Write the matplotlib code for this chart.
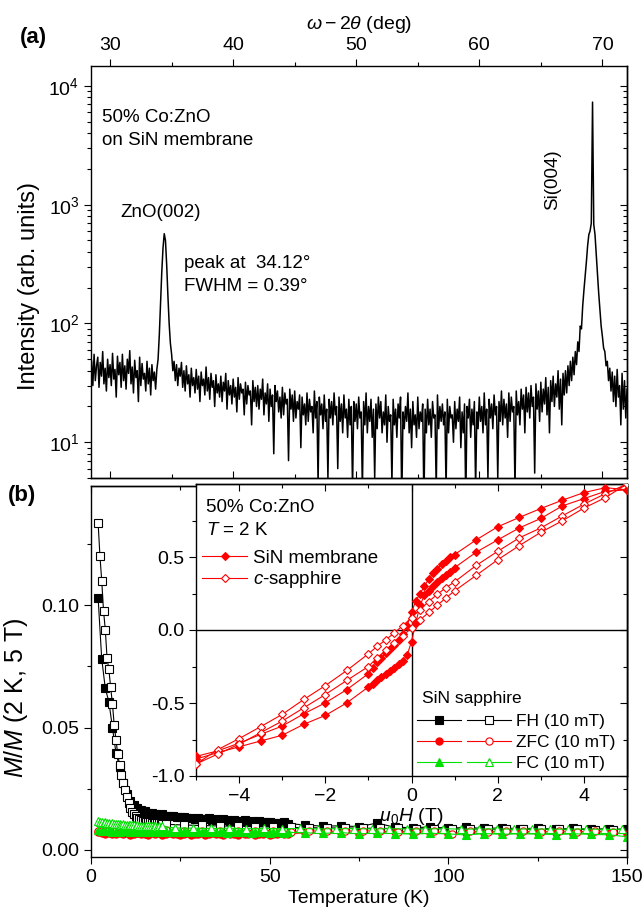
import numpy as np
import matplotlib
matplotlib.use('Agg')
import matplotlib.pyplot as plt
from matplotlib.ticker import MultipleLocator, LogLocator, NullFormatter, FixedLocator, FormatStrFormatter
from matplotlib.legend_handler import HandlerTuple

plt.rcParams['font.family'] = ['Liberation Sans', 'DejaVu Sans']
plt.rcParams['mathtext.fontset'] = 'custom'
plt.rcParams['mathtext.rm'] = 'Liberation Sans'
plt.rcParams['mathtext.it'] = 'Liberation Sans:italic'
plt.rcParams['mathtext.bf'] = 'Liberation Sans:bold'
plt.rcParams['axes.linewidth'] = 1.0

# ---------------- panel (a): XRD scan ----------------
xrd_start = 28.5
xrd_step = 0.1
xrd_intensity = [
    48, 30, 55, 33, 44,
    52, 29, 47, 36, 58, 31, 42, 27, 50, 35,
    45, 30, 56, 34, 41, 24, 53, 37, 47, 29,
    55, 33, 44, 28, 50, 38, 59, 31, 43, 26,
    49, 35, 40, 22, 52, 30, 46, 34, 38, 27,
    48, 31, 42, 25, 45, 33, 39, 28, 41, 50,
    80, 150, 270, 430, 570, 500, 310, 170, 100, 68,
    55, 40, 48, 33, 45, 30, 42, 36, 47, 29,
    40, 27, 44, 31, 37, 24, 42, 30, 35, 26,
    41, 28, 36, 22, 39, 30, 34, 25, 43, 27,
    35, 23, 38, 29, 33, 20, 37, 26, 31, 24,
    36, 22, 32, 27, 38, 19, 33, 25, 30, 21,
    34, 24, 29, 18, 35, 23, 31, 26, 28, 17,
    32, 21, 30, 25, 27, 14, 33, 22, 29, 20,
    30, 19, 28, 23, 34, 17, 26, 21, 31, 15,
    28, 20, 25, 8, 30, 22, 27, 18, 24, 16,
    29, 17, 26, 21, 23, 7, 28, 19, 25, 15,
    27, 16, 22, 19, 25, 9, 24, 17, 21, 14,
    26, 15, 23, 18, 20, 12, 27, 16, 22, 4.5,
    24, 17, 21, 13, 25, 15, 19, 5, 23, 16,
    22, 14, 26, 17, 20, 6, 24, 15, 21, 12,
    25, 16, 19, 11, 23, 14, 20, 4, 22, 15,
    21, 13, 24, 16, 18, 4, 22, 14, 26, 12,
    20, 15, 23, 11, 19, 5, 21, 13, 24, 16,
    22, 12, 18, 14, 25, 10, 20, 15, 17, 4.5,
    23, 14, 19, 11, 21, 16, 24, 3, 18, 13,
    20, 15, 26, 12, 19, 9, 22, 14, 17, 11,
    24, 13, 18, 15, 21, 3, 19, 12, 23, 14,
    19, 11, 22, 16, 17, 4, 25, 13, 20, 15,
    21, 14, 18, 4, 23, 12, 20, 16, 17, 10,
    22, 13, 19, 15, 24, 9, 18, 12, 21, 3,
    20, 16, 23, 11, 19, 14, 22, 4, 18, 13,
    24, 15, 20, 12, 26, 14, 19, 5, 23, 16,
    21, 13, 25, 17, 20, 5, 22, 15, 27, 14,
    23, 16, 21, 11, 26, 15, 24, 18, 20, 4,
    27, 17, 22, 14, 28, 19, 25, 12, 29, 18,
    26, 16, 30, 20, 24, 5.5, 31, 19, 27, 15,
    32, 18, 28, 21, 35, 17, 29, 12, 33, 22,
    36, 20, 31, 24, 40, 19, 34, 14, 38, 25,
    40, 26, 44, 30, 48, 33, 52, 37, 58, 45,
    70, 58, 95, 90, 140, 190, 250, 330, 450, 560,
    600, 700, 7300, 680, 560, 380, 260, 180, 130, 95,
    78, 62, 58, 44, 48, 33, 42, 27, 39, 22,
    36, 20, 41, 24, 30, 14, 38, 19, 33, 16,
    28,
]
xrd_angle = xrd_start + xrd_step * np.arange(len(xrd_intensity))

# ---------------- panel (b): M(T) ----------------
T_sin = list(range(2, 56)) + list(range(60, 151, 5))
T_sap = list(np.arange(2.0, 20.01, 0.5)) + list(range(21, 147, 5))
T_sap_fc = list(np.arange(2.0, 20.01, 0.5)) + list(np.arange(23.5, 149, 5.0))

fh_sin = [0.1027, 0.0780, 0.0660, 0.0605, 0.0500, 0.0395, 0.0340, 0.0275, 0.0230, 0.0200,
          0.0182, 0.0172, 0.0163, 0.0158, 0.0150, 0.0152, 0.0146, 0.0143, 0.0145, 0.0139,
          0.0137, 0.0140, 0.0134, 0.0133, 0.0136, 0.0130, 0.0131, 0.0128, 0.0132, 0.0127,
          0.0126, 0.0129, 0.0124, 0.0125, 0.0122, 0.0126, 0.0121, 0.0120, 0.0123, 0.0118,
          0.0119, 0.0121, 0.0116, 0.0117, 0.0115, 0.0118, 0.0113, 0.0114, 0.0116, 0.0111,
          0.0112, 0.0110, 0.0113, 0.0108,
          0.0102, 0.0097, 0.0099, 0.0095, 0.0110, 0.0093, 0.0091, 0.0094, 0.0089, 0.0092,
          0.0088, 0.0090, 0.0087, 0.0089, 0.0086, 0.0088, 0.0085, 0.0087, 0.0084]
fh_sap = [0.1333, 0.1200, 0.1100, 0.0977, 0.0900, 0.0782, 0.0737, 0.0664, 0.0596, 0.0510,
          0.0449, 0.0390, 0.0347, 0.0306, 0.0272, 0.0245, 0.0218, 0.0190, 0.0170, 0.0156,
          0.0146, 0.0138, 0.0132, 0.0127, 0.0123, 0.0120, 0.0118, 0.0116, 0.0114, 0.0113,
          0.0112, 0.0111, 0.0110, 0.0109, 0.0109, 0.0108, 0.0107,
          0.0105, 0.0102, 0.0100, 0.0098, 0.0097, 0.0095, 0.0094, 0.0092, 0.0091, 0.0090,
          0.0090, 0.0089, 0.0088, 0.0088, 0.0087, 0.0087, 0.0086, 0.0086, 0.0085, 0.0085,
          0.0085, 0.0084, 0.0084, 0.0084, 0.0083, 0.0083]
zfc_sin = [0.0072, 0.0070, 0.0066, 0.0069, 0.0064, 0.0067, 0.0071, 0.0065, 0.0068, 0.0063,
           0.0066, 0.0070, 0.0064, 0.0067, 0.0062, 0.0068, 0.0065, 0.0069, 0.0063, 0.0066,
           0.0070, 0.0064, 0.0067, 0.0061, 0.0066, 0.0069, 0.0063, 0.0067, 0.0065, 0.0070,
           0.0062, 0.0066, 0.0068, 0.0064, 0.0067, 0.0063, 0.0069, 0.0065, 0.0066, 0.0062,
           0.0068, 0.0064, 0.0067, 0.0070, 0.0063, 0.0066, 0.0065, 0.0069, 0.0062, 0.0067,
           0.0064, 0.0068, 0.0065, 0.0066,
           0.0070, 0.0068, 0.0071, 0.0067, 0.0069, 0.0072, 0.0068, 0.0070, 0.0066, 0.0069,
           0.0071, 0.0067, 0.0070, 0.0068, 0.0069, 0.0066, 0.0070, 0.0068, 0.0067]
zfc_sap = [0.0078, 0.0075, 0.0077, 0.0073, 0.0076, 0.0074, 0.0077, 0.0072, 0.0075, 0.0073,
           0.0076, 0.0072, 0.0075, 0.0074, 0.0071, 0.0075, 0.0073, 0.0076, 0.0072, 0.0074,
           0.0073, 0.0075, 0.0071, 0.0074, 0.0072, 0.0075, 0.0073, 0.0071, 0.0074, 0.0072,
           0.0075, 0.0073, 0.0071, 0.0074, 0.0072, 0.0073, 0.0075,
           0.0080, 0.0078, 0.0077, 0.0079, 0.0076, 0.0078, 0.0077, 0.0075, 0.0078, 0.0076,
           0.0077, 0.0079, 0.0076, 0.0075, 0.0078, 0.0076, 0.0066, 0.0077, 0.0075, 0.0078,
           0.0076, 0.0074, 0.0077, 0.0075, 0.0076, 0.0074]
fc_sin = [0.0080, 0.0078, 0.0076, 0.0079, 0.0075, 0.0077, 0.0074, 0.0078, 0.0076, 0.0073,
          0.0077, 0.0075, 0.0078, 0.0074, 0.0076, 0.0073, 0.0077, 0.0075, 0.0072, 0.0076,
          0.0074, 0.0077, 0.0073, 0.0075, 0.0076, 0.0072, 0.0075, 0.0074, 0.0077, 0.0073,
          0.0075, 0.0072, 0.0076, 0.0074, 0.0073, 0.0075, 0.0071, 0.0074, 0.0076, 0.0072,
          0.0074, 0.0073, 0.0075, 0.0071, 0.0074, 0.0072, 0.0075, 0.0073, 0.0070, 0.0074,
          0.0072, 0.0073, 0.0071, 0.0072,
          0.0070, 0.0068, 0.0071, 0.0066, 0.0069, 0.0067, 0.0065, 0.0068, 0.0066, 0.0061,
          0.0067, 0.0064, 0.0066, 0.0065, 0.0063, 0.0066, 0.0064, 0.0062, 0.0054]
fc_sap = [0.0118, 0.0114, 0.0116, 0.0112, 0.0113, 0.0110, 0.0111, 0.0108, 0.0110, 0.0106,
          0.0107, 0.0105, 0.0106, 0.0103, 0.0105, 0.0102, 0.0103, 0.0101, 0.0102, 0.0100,
          0.0101, 0.0099, 0.0100, 0.0098, 0.0099, 0.0098, 0.0099, 0.0097, 0.0098, 0.0096,
          0.0098, 0.0096, 0.0097, 0.0095, 0.0097, 0.0095, 0.0096,
          0.0090, 0.0089, 0.0088, 0.0089, 0.0087, 0.0088, 0.0087, 0.0088, 0.0086, 0.0087,
          0.0087, 0.0086, 0.0087, 0.0086, 0.0086, 0.0087, 0.0085, 0.0086, 0.0086, 0.0085,
          0.0086, 0.0085, 0.0085, 0.0086, 0.0084, 0.0085]

# ---------------- inset: M(H) loops at 2 K ----------------
H_sin_down = [5, 4.5, 4, 3.5, 3, 2.5, 2, 1.5, 1, 0.9, 0.8, 0.7, 0.6, 0.5, 0.4, 0.3, 0.2, 0.1, 0,
              -0.1, -0.2, -0.3, -0.4, -0.5, -0.6, -0.7, -0.8, -0.9, -1, -1.5, -2, -2.5, -3, -3.5, -4, -4.5, -5]
M_sin_down = [0.96, 0.975, 0.941, 0.889, 0.832, 0.771, 0.707, 0.617, 0.517, 0.50, 0.476, 0.45, 0.42,
              0.39, 0.35, 0.30, 0.25, 0.20, 0.12, 0.03, -0.03, -0.07, -0.10, -0.13, -0.16, -0.19,
              -0.22, -0.26, -0.299, -0.408, -0.499, -0.574, -0.658, -0.715, -0.775, -0.828, -0.866]
H_sin_up = H_sin_down[::-1]
M_sin_up = [-0.884, -0.84, -0.80, -0.76, -0.721, -0.646, -0.585, -0.499, -0.39, -0.37, -0.34, -0.32,
            -0.30, -0.28, -0.26, -0.23, -0.21, -0.17, -0.08, 0.05, 0.17, 0.24, 0.27, 0.30, 0.33,
            0.355, 0.374, 0.40, 0.427, 0.533, 0.617, 0.699, 0.764, 0.85, 0.90, 0.95, 0.96]
H_sap_down = [5, 4.5, 4, 3.5, 3, 2.5, 2, 1.5, 1, 0.8, 0.6, 0.4, 0.2, 0, -0.2, -0.4, -0.6, -0.8, -1,
              -1.5, -2, -2.5, -3, -3.5, -4, -4.5, -5]
M_sap_down = [1.0, 0.934, 0.862, 0.782, 0.699, 0.631, 0.539, 0.442, 0.33, 0.29, 0.245, 0.195, 0.14,
              0.085, 0.03, -0.02, -0.068, -0.113, -0.163, -0.277, -0.381, -0.476, -0.578, -0.662,
              -0.744, -0.82, -0.918]
H_sap_up = H_sap_down[::-1]
M_sap_up = [-0.918, -0.85, -0.782, -0.703, -0.624, -0.533, -0.442, -0.345, -0.25, -0.19, -0.14,
            -0.09, -0.04, 0.015, 0.07, 0.12, 0.17, 0.22, 0.268, 0.374, 0.481, 0.578, 0.669, 0.748,
            0.835, 0.907, 1.0]

RED = '#ff0000'
GREEN = '#00e000'

# ---------------- figure ----------------
W, HH = 642, 907
fig = plt.figure(figsize=(W / 100, HH / 100), dpi=100)


def rect(l, t, r, b):
    return [l / W, 1 - b / HH, (r - l) / W, (b - t) / HH]


ax_a = fig.add_axes(rect(91, 66, 627, 478))
ax_b = fig.add_axes(rect(91, 486, 627, 857))
ax_in = fig.add_axes(rect(196, 484, 627, 776))

MAJ, MIN, TW = 4.8, 2.8, 0.8


def style(ax):
    ax.tick_params(which='major', length=MAJ, width=TW, labelsize=14)
    ax.tick_params(which='minor', length=MIN, width=TW)


# ---- panel (a)
ax_a.plot(xrd_angle, xrd_intensity, color='black', lw=1.1)
ax_a.set_yscale('log')
ax_a.set_xlim(28.45, 72.0)
ax_a.set_ylim(5.0, 14700)
ax_a.xaxis.set_major_locator(MultipleLocator(10))
ax_a.xaxis.set_minor_locator(MultipleLocator(5))
ax_a.yaxis.set_major_locator(LogLocator(base=10, numticks=10))
ax_a.yaxis.set_minor_locator(LogLocator(base=10, subs=np.arange(2, 10) * 1.0, numticks=20))
ax_a.yaxis.set_minor_formatter(NullFormatter())
style(ax_a)
ax_a.tick_params(axis='x', which='both', top=True, bottom=False, labeltop=True,
                 labelbottom=False, direction='out')
ax_a.tick_params(axis='y', which='both', left=True, right=False, direction='out')
ax_a.xaxis.set_label_position('top')
ax_a.set_xlabel(r'$\omega - 2\theta$ (deg)', fontsize=14, labelpad=6)
ax_a.set_ylabel('Intensity (arb. units)', fontsize=17)
ax_a.yaxis.set_label_coords(-0.095, 0.466)

sxa = ax_a.secondary_xaxis('bottom')
sxa.xaxis.set_major_locator(MultipleLocator(10))
sxa.xaxis.set_minor_locator(MultipleLocator(5))
sxa.xaxis.set_major_formatter(NullFormatter())
sxa.tick_params(which='major', length=MAJ, width=TW, direction='in')
sxa.tick_params(which='minor', length=MIN, width=TW, direction='in')
sya = ax_a.secondary_yaxis('right')
sya.yaxis.set_major_formatter(NullFormatter())
sya.yaxis.set_minor_formatter(NullFormatter())
sya.tick_params(which='major', length=MAJ, width=TW, direction='in')
sya.tick_params(which='minor', length=MIN, width=TW, direction='in')

ta = dict(transform=ax_a.transAxes, fontsize=13.5, va='center')
ax_a.text(0.0205, 0.874, '50% Co:ZnO', **ta)
ax_a.text(0.0205, 0.818, 'on SiN membrane', **ta)
ax_a.text(0.1306, 0.6456, 'ZnO(002)', ha='center', **ta)
ax_a.text(0.1735, 0.5218, 'peak at  34.12°', **ta)
ax_a.text(0.1735, 0.466, 'FWHM = 0.39°', **ta)
ax_a.text(0.862, 0.723, 'Si(004)', rotation=90, ha='center', **ta)

fig.text(20 / W, 1 - 38 / HH, '(a)', fontsize=16, fontweight='bold', va='center')
fig.text(8 / W, 1 - 495 / HH, '(b)', fontsize=16, fontweight='bold', va='center')

# ---- panel (b)
mk = dict(ms=5.2, mew=0.8, lw=0.8)
l_fh_sin, = ax_b.plot(T_sin, fh_sin, color='black', marker='s', mfc='black', mec='black', **mk)
l_fh_sap, = ax_b.plot(T_sap, fh_sap, color='black', marker='s', mfc='white', mec='black', **mk)
l_zfc_sin, = ax_b.plot(T_sin, zfc_sin, color=RED, marker='o', mfc=RED, mec=RED, **mk)
l_zfc_sap, = ax_b.plot(T_sap, zfc_sap, color=RED, marker='o', mfc='white', mec=RED, **mk)
l_fc_sin, = ax_b.plot(T_sin, fc_sin, color=GREEN, marker='^', mfc=GREEN, mec=GREEN, **mk)
l_fc_sap, = ax_b.plot(T_sap_fc, fc_sap, color=GREEN, marker='^', mfc='white', mec=GREEN, **mk)

ax_b.set_xlim(0, 150)
ax_b.set_ylim(-0.00286, 0.1486)
ax_b.xaxis.set_major_locator(MultipleLocator(50))
ax_b.xaxis.set_minor_locator(MultipleLocator(25))
ax_b.yaxis.set_major_locator(MultipleLocator(0.05))
ax_b.yaxis.set_minor_locator(MultipleLocator(0.025))
ax_b.yaxis.set_major_formatter(FormatStrFormatter('%.2f'))
style(ax_b)
ax_b.tick_params(which='both', direction='out', top=False, right=False)
ax_b.set_xlabel('Temperature (K)', fontsize=14, labelpad=3)
ax_b.set_ylabel(r'$M/M$ (2 K, 5 T)', fontsize=18)
ax_b.yaxis.set_label_coords(-0.114, 0.43)

sxb = ax_b.secondary_xaxis('top')
sxb.xaxis.set_major_locator(MultipleLocator(50))
sxb.xaxis.set_minor_locator(MultipleLocator(25))
sxb.xaxis.set_major_formatter(NullFormatter())
sxb.tick_params(which='major', length=MAJ, width=TW, direction='in')
sxb.tick_params(which='minor', length=MIN, width=TW, direction='in')
syb = ax_b.secondary_yaxis('right')
syb.yaxis.set_major_locator(MultipleLocator(0.05))
syb.yaxis.set_minor_locator(MultipleLocator(0.025))
syb.yaxis.set_major_formatter(NullFormatter())
syb.tick_params(which='major', length=MAJ, width=TW, direction='in')
syb.tick_params(which='minor', length=MIN, width=TW, direction='in')

# ---- inset
ax_in.set_facecolor('white')
ax_in.axhline(0, color='black', lw=1.0, zorder=1)
ax_in.axvline(0, color='black', lw=1.0, zorder=1)
dk = dict(ms=4.0, mew=0.8, lw=0.8, zorder=3)
l_sin, = ax_in.plot(H_sin_down + H_sin_up, M_sin_down + M_sin_up, color=RED, marker='D',
                    mfc=RED, mec=RED, **dk)
l_sap, = ax_in.plot(H_sap_down + H_sap_up, M_sap_down + M_sap_up, color=RED, marker='D',
                    mfc='white', mec=RED, **dk)
ax_in.set_xlim(-5, 5)
ax_in.set_ylim(-1, 1)
ax_in.xaxis.set_major_locator(MultipleLocator(2))
ax_in.xaxis.set_minor_locator(MultipleLocator(1))
ax_in.yaxis.set_major_locator(FixedLocator([-1.0, -0.5, 0.0, 0.5]))
ax_in.yaxis.set_minor_locator(FixedLocator([-0.75, -0.25, 0.25, 0.75]))
ax_in.yaxis.set_major_formatter(FormatStrFormatter('%.1f'))
style(ax_in)
ax_in.tick_params(which='both', direction='out', top=False, right=False)
ax_in.set_xlabel(r'$\mu_0H$ (T)', fontsize=14, labelpad=1)

sxi = ax_in.secondary_xaxis('top')
sxi.xaxis.set_major_locator(MultipleLocator(2))
sxi.xaxis.set_minor_locator(MultipleLocator(1))
sxi.xaxis.set_major_formatter(NullFormatter())
sxi.tick_params(which='major', length=MAJ, width=TW, direction='in')
sxi.tick_params(which='minor', length=MIN, width=TW, direction='in')
syi = ax_in.secondary_yaxis('right')
syi.yaxis.set_major_locator(FixedLocator([-1.0, -0.5, 0.0, 0.5, 1.0]))
syi.yaxis.set_minor_locator(FixedLocator([-0.75, -0.25, 0.25, 0.75]))
syi.yaxis.set_major_formatter(NullFormatter())
syi.tick_params(which='major', length=MAJ, width=TW, direction='in')
syi.tick_params(which='minor', length=MIN, width=TW, direction='in')

ti = dict(transform=ax_in.transAxes, fontsize=13.5, va='center')
ax_in.text(0.023, 0.921, '50% Co:ZnO', **ti)
ax_in.text(0.023, 0.842, r'$T$ = 2 K', **ti)

leg1 = ax_in.legend([l_sin, l_sap], ['SiN membrane', r'$c$-sapphire'], loc='upper left',
                    bbox_to_anchor=(0.014, 0.776), frameon=False, fontsize=13.5,
                    handlelength=2.4, handletextpad=0.3, labelspacing=0.15, borderpad=0,
                    borderaxespad=0, numpoints=1)
ax_in.add_artist(leg1)

ax_in.text(0.524, 0.267, 'SiN sapphire', transform=ax_in.transAxes, fontsize=12.5, va='center')
leg2 = ax_in.legend([(l_fh_sin, l_fh_sap), (l_zfc_sin, l_zfc_sap), (l_fc_sin, l_fc_sap)],
                    ['FH (10 mT)', 'ZFC (10 mT)', 'FC (10 mT)'],
                    handler_map={tuple: HandlerTuple(ndivide=None, pad=0.35)},
                    loc='upper left', bbox_to_anchor=(0.513, 0.214), frameon=False,
                    fontsize=12.5, handlelength=5.4, handletextpad=0.3, labelspacing=0.36,
                    borderpad=0, borderaxespad=0, numpoints=1)

fig.savefig('out.png', dpi=100)
